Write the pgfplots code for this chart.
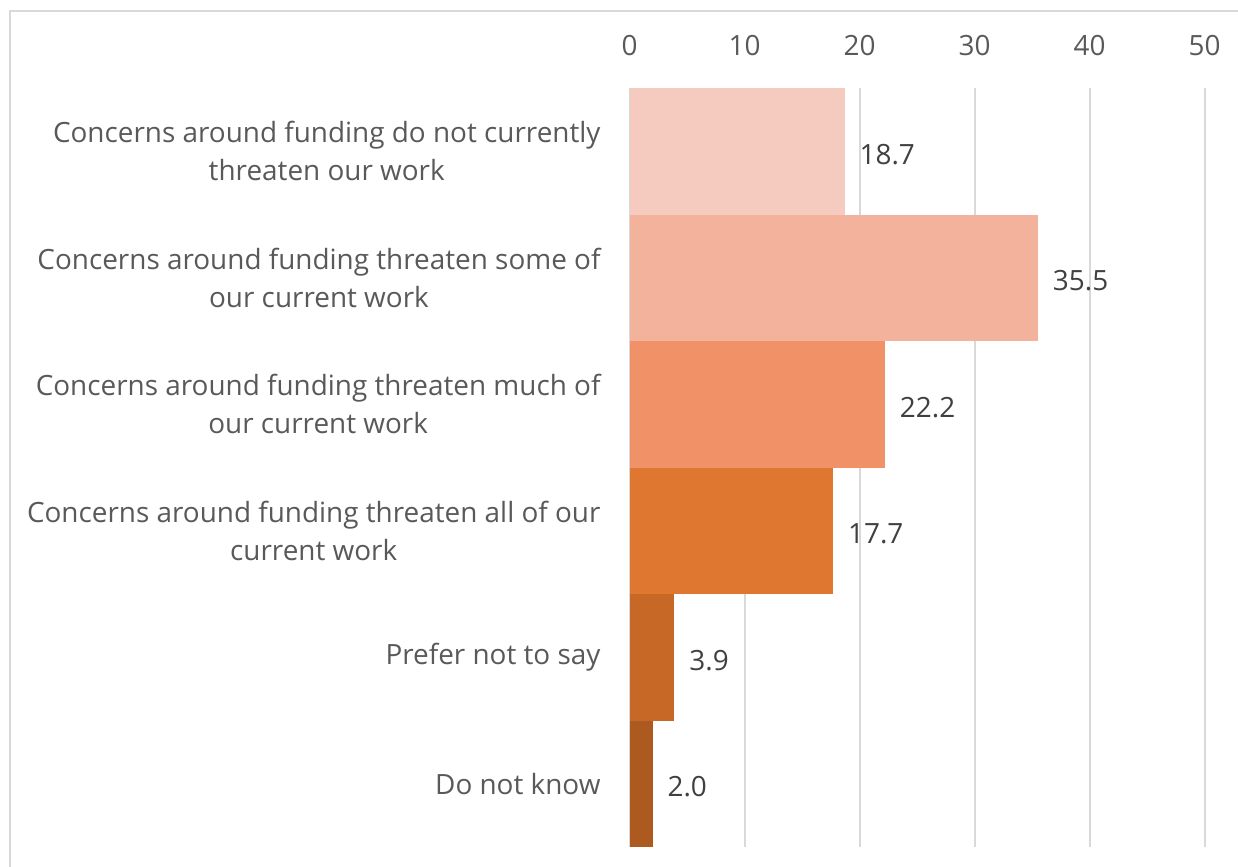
\documentclass[border=0pt]{standalone}
\usepackage{pgfplots}
\pgfplotsset{compat=1.18}
\usepackage{fontspec}
\setmainfont{Open Sans}
\definecolor{gridc}{RGB}{217,217,217}
\definecolor{tickc}{RGB}{89,89,89}
\definecolor{valc}{RGB}{64,64,64}
\definecolor{c1}{RGB}{245,203,191}
\definecolor{c2}{RGB}{243,178,155}
\definecolor{c3}{RGB}{240,145,104}
\definecolor{c4}{RGB}{224,119,48}
\definecolor{c5}{RGB}{199,104,39}
\definecolor{c6}{RGB}{173,90,32}
\begin{document}
\begin{tikzpicture}
\useasboundingbox (0,0) rectangle (619bp,-433.5bp);
\draw[gridc, line width=1bp] (5bp,-433.5bp) -- (5bp,-5.5bp) -- (619bp,-5.5bp);
\begin{axis}[
  at={(314.75bp,-44bp)}, anchor=north west,
  width=287.6bp, height=379.5bp, scale only axis,
  xbar, bar width=1, bar shift=0pt,
  xmin=0, xmax=50, ymin=-0.5, ymax=5.5, y dir=reverse,
  axis line style={draw=none},
  major tick length=0,
  xticklabel pos=upper,
  xtick={0,10,...,50},
  xmajorgrids, grid style={color=gridc, line width=1bp},
  ytick={0,...,5},
  yticklabels={{Concerns around funding do not currently\\threaten our work},
    {Concerns around funding threaten some of\\our current work},
    {Concerns around funding threaten much of\\our current work},
    {Concerns around funding threaten all of our\\current work},
    {Prefer not to say},{Do not know}},
  yticklabel style={align=center, anchor=east, font=\fontsize{14}{19}\selectfont, text=tickc, xshift=-11bp},
  xticklabel style={font=\fontsize{14}{19}\selectfont, text=tickc, yshift=12.5bp},
  /pgf/number format/assume math mode=true,
  nodes near coords,
  nodes near coords style={font=\fontsize{14}{19}\selectfont, text=valc, anchor=west, xshift=4bp, yshift=-1.5bp,
    /pgf/number format/.cd, fixed, fixed zerofill, precision=1, assume math mode=true},
]
\addplot[fill=c1, draw=none] coordinates {(18.7,0)};
\addplot[fill=c2, draw=none] coordinates {(35.5,1)};
\addplot[fill=c3, draw=none] coordinates {(22.2,2)};
\addplot[fill=c4, draw=none] coordinates {(17.7,3)};
\addplot[fill=c5, draw=none] coordinates {(3.9,4)};
\addplot[fill=c6, draw=none] coordinates {(2.0,5)};
\end{axis}
\end{tikzpicture}
\end{document}
